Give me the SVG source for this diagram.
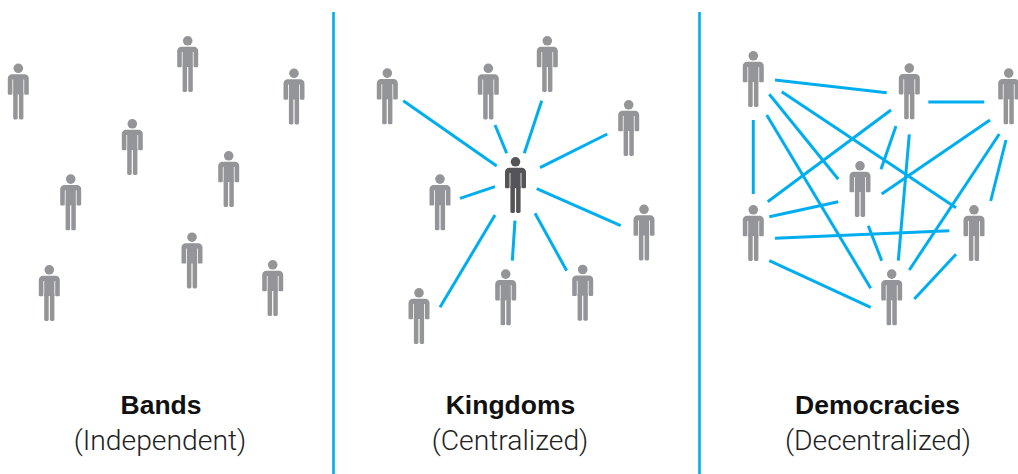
<svg xmlns="http://www.w3.org/2000/svg" xmlns:xlink="http://www.w3.org/1999/xlink" width="1018" height="474" viewBox="0 0 1018 474">
<style>
.c{stroke:#00aeef;stroke-width:3;fill:none;stroke-linecap:butt}
.sep{stroke:#00aeef;stroke-width:2.6}
.g{fill:#939598}
.dk{fill:#555559}
.t{font-family:"Liberation Sans",Arial,sans-serif;font-weight:bold;font-size:26.5px;fill:#111;text-anchor:middle}
.s{font-family:Roboto,"Liberation Sans",sans-serif;font-weight:300;font-size:28.3px;fill:#222;text-anchor:middle}
</style>
<defs>
<symbol id="person" overflow="visible">
<circle cx="0" cy="4.8" r="4.8"/>
<path d="M-10.5,30 V15 A4.2,4.2 0 0 1 -6.3,10.8 H6.3 A4.2,4.2 0 0 1 10.5,15 V30 A1.2,1.2 0 0 1 9.3,31.2 H7.1 A1.2,1.2 0 0 1 5.9,30 V16 H-5.9 V30 A1.2,1.2 0 0 1 -7.1,31.2 H-9.3 A1.2,1.2 0 0 1 -10.5,30 Z"/>
<rect x="-5.1" y="14" width="10.2" height="17"/>
<rect x="-5.1" y="29" width="4.5" height="27" rx="1.4"/>
<rect x="0.6" y="29" width="4.5" height="27" rx="1.4"/>
</symbol>
</defs>
<rect width="1018" height="474" fill="#fff"/>
<g id="separators">
<line class="sep" x1="333.5" y1="12" x2="333.5" y2="474"/>
<line class="sep" x1="699.5" y1="12" x2="699.5" y2="474"/>
</g>
<g id="connectors">
<line class="c" x1="403.3" y1="100.7" x2="496.7" y2="166"/>
<line class="c" x1="495" y1="125" x2="506.7" y2="153.3"/>
<line class="c" x1="541.7" y1="100.7" x2="524.3" y2="153.3"/>
<line class="c" x1="607.3" y1="134" x2="540" y2="167.7"/>
<line class="c" x1="460" y1="198.3" x2="495" y2="186.7"/>
<line class="c" x1="536.7" y1="188.7" x2="620.7" y2="225.7"/>
<line class="c" x1="495" y1="215" x2="440" y2="307.3"/>
<line class="c" x1="515" y1="220.7" x2="512.3" y2="260.7"/>
<line class="c" x1="535" y1="213.3" x2="566.7" y2="270.7"/>
<line class="c" x1="775" y1="80" x2="886.7" y2="92.7"/>
<line class="c" x1="928.3" y1="102" x2="984.3" y2="102"/>
<line class="c" x1="769.3" y1="94.3" x2="838.3" y2="179.3"/>
<line class="c" x1="781.7" y1="91.7" x2="956" y2="207.7"/>
<line class="c" x1="766.7" y1="115" x2="870.7" y2="288.3"/>
<line class="c" x1="753.3" y1="120" x2="753.3" y2="194"/>
<line class="c" x1="891" y1="110" x2="767.7" y2="201.7"/>
<line class="c" x1="896" y1="126" x2="881" y2="169.3"/>
<line class="c" x1="909.3" y1="134.3" x2="898.3" y2="260.7"/>
<line class="c" x1="990" y1="120" x2="881.7" y2="194"/>
<line class="c" x1="999.3" y1="134" x2="909.3" y2="270"/>
<line class="c" x1="1006" y1="140" x2="990.7" y2="201"/>
<line class="c" x1="769.3" y1="216.7" x2="838.3" y2="201.7"/>
<line class="c" x1="775" y1="238.3" x2="949.3" y2="230.7"/>
<line class="c" x1="769.3" y1="260.7" x2="870.7" y2="307.3"/>
<line class="c" x1="868.3" y1="225.7" x2="881.7" y2="260.7"/>
<line class="c" x1="956" y1="254.3" x2="914.3" y2="299"/>
</g>
<g id="band-people" class="g">
<g id="b1"><use xlink:href="#person" x="18.3" y="63.5"/></g>
<g id="b2"><use xlink:href="#person" x="187.7" y="36"/></g>
<g id="b3"><use xlink:href="#person" x="294" y="68.5"/></g>
<g id="b4"><use xlink:href="#person" x="132.3" y="119"/></g>
<g id="b5"><use xlink:href="#person" x="228.7" y="151"/></g>
<g id="b6"><use xlink:href="#person" x="70.7" y="174.3"/></g>
<g id="b7"><use xlink:href="#person" x="192" y="232.4"/></g>
<g id="b8"><use xlink:href="#person" x="49.3" y="265"/></g>
<g id="b9"><use xlink:href="#person" x="272.7" y="260"/></g>
</g>
<g id="kingdom-people" class="g">
<g id="king" class="dk"><use xlink:href="#person" x="515.5" y="157"/></g>
<g id="k1"><use xlink:href="#person" x="387.3" y="68.3"/></g>
<g id="k2"><use xlink:href="#person" x="488.3" y="63.5"/></g>
<g id="k3"><use xlink:href="#person" x="547.3" y="36"/></g>
<g id="k4"><use xlink:href="#person" x="628.7" y="100"/></g>
<g id="k5"><use xlink:href="#person" x="440" y="174.3"/></g>
<g id="k6"><use xlink:href="#person" x="644" y="204.5"/></g>
<g id="k7"><use xlink:href="#person" x="419" y="288"/></g>
<g id="k8"><use xlink:href="#person" x="505.7" y="269.3"/></g>
<g id="k9"><use xlink:href="#person" x="582.7" y="264.7"/></g>
</g>
<g id="democracy-people" class="g">
<g id="d1"><use xlink:href="#person" x="753.3" y="51"/></g>
<g id="d2"><use xlink:href="#person" x="909.3" y="63.3"/></g>
<g id="d3"><use xlink:href="#person" x="1008.7" y="68.3"/></g>
<g id="d4"><use xlink:href="#person" x="860" y="161"/></g>
<g id="d5"><use xlink:href="#person" x="753.3" y="205"/></g>
<g id="d6"><use xlink:href="#person" x="974" y="205"/></g>
<g id="d7"><use xlink:href="#person" x="891.7" y="269.3"/></g>
</g>
<g id="labels">
<text class="t" x="161" y="414">Bands</text>
<text class="s" x="160" y="450">(Independent)</text>
<text class="t" x="510.5" y="414">Kingdoms</text>
<text class="s" x="510" y="450">(Centralized)</text>
<text class="t" x="877.5" y="414">Democracies</text>
<text class="s" x="878" y="450">(Decentralized)</text>
</g>
</svg>
